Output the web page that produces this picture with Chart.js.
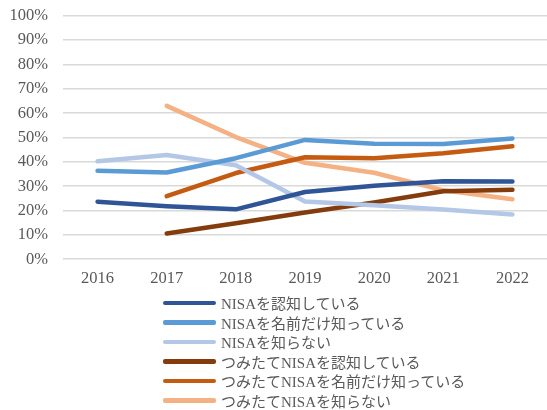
<!DOCTYPE html>
<html>
<head>
<meta charset="utf-8">
<script src="https://cdn.jsdelivr.net/npm/chart.js@4"></script>
<style>
  html, body { margin: 0; padding: 0; background: #fff; }
  #wrap { position: relative; width: 547px; height: 410px; }
  #legend {
    position: absolute; left: 163px; top: 293px;
    font-family: "Liberation Serif", "Noto Sans CJK JP", serif;
    font-size: 15px; color: #595959;
  }
  .item { display: flex; align-items: center; height: 19.5px; white-space: nowrap; }
  .swatch { width: 53px; height: 4.5px; border-radius: 2px; margin-right: 5px; }
</style>
</head>
<body>
<div id="wrap">
  <canvas id="chart" width="547" height="410"></canvas>
  <div id="legend"></div>
</div>
<script>
// Years on the x axis
const years = ['2016', '2017', '2018', '2019', '2020', '2021', '2022'];

// Series values (%)
const nisaAware     = [23.6, 21.8, 20.5, 27.6, 30.2, 32.0, 31.9];
const nisaNameOnly  = [36.3, 35.6, 41.5, 49.0, 47.4, 47.3, 49.6];
const nisaUnknown   = [40.2, 42.8, 38.6, 23.7, 22.2, 20.4, 18.4];
const tsumiAware    = [null, 10.6, 14.8, 19.2, 23.3, 27.9, 28.5];
const tsumiNameOnly = [null, 25.9, 35.4, 41.9, 41.5, 43.5, 46.4];
const tsumiUnknown  = [null, 63.0, 50.2, 39.6, 35.5, 28.3, 24.6];

const seriesLabels = [
    'NISAを認知している',
    'NISAを名前だけ知っている',
    'NISAを知らない',
    'つみたてNISAを認知している',
    'つみたてNISAを名前だけ知っている',
    'つみたてNISAを知らない'
];
const seriesColors = ['#2F5597', '#5B9BD5', '#B4C7E7', '#843C0C', '#C55A11', '#F4B183'];
const seriesData = [nisaAware, nisaNameOnly, nisaUnknown, tsumiAware, tsumiNameOnly, tsumiUnknown];

const fontFamily = '"Liberation Serif", "Noto Sans CJK JP", serif';

new Chart(document.getElementById('chart'), {
    type: 'line',
    data: {
        labels: years,
        datasets: seriesData.map(function(d, i) {
            return {
                label: seriesLabels[i],
                data: d,
                borderColor: seriesColors[i],
                backgroundColor: seriesColors[i],
                borderWidth: 4.5,
                borderCapStyle: 'round',
                borderJoinStyle: 'round',
                pointRadius: 0,
                tension: 0
            };
        })
    },
    options: {
        responsive: false,
        animation: false,
        layout: { padding: { top: 5, right: 0, bottom: 111, left: 4 } },
        plugins: {
            legend: { display: false },
            tooltip: { enabled: false }
        },
        scales: {
            x: {
                offset: true,
                grid: { display: false, drawTicks: false },
                border: { display: false },
                ticks: { color: '#595959', font: { family: fontFamily, size: 16.5 }, padding: 10 }
            },
            y: {
                min: 0,
                max: 100,
                grid: { color: '#d9d9d9', lineWidth: 1.5, drawTicks: false },
                border: { display: false },
                afterFit: function(scale) { scale.width = 59; },
                ticks: {
                    stepSize: 10,
                    color: '#595959',
                    font: { family: fontFamily, size: 16.5, lineHeight: 0.1 },
                    padding: 15,
                    callback: function(value) { return value + '%'; }
                }
            }
        }
    }
});

// HTML legend, one entry per row
const legend = document.getElementById('legend');
seriesLabels.forEach(function(label, i) {
    const row = document.createElement('div');
    row.className = 'item';
    const sw = document.createElement('span');
    sw.className = 'swatch';
    sw.style.background = seriesColors[i];
    const txt = document.createElement('span');
    txt.textContent = label;
    row.appendChild(sw);
    row.appendChild(txt);
    legend.appendChild(row);
});
</script>
</body>
</html>
